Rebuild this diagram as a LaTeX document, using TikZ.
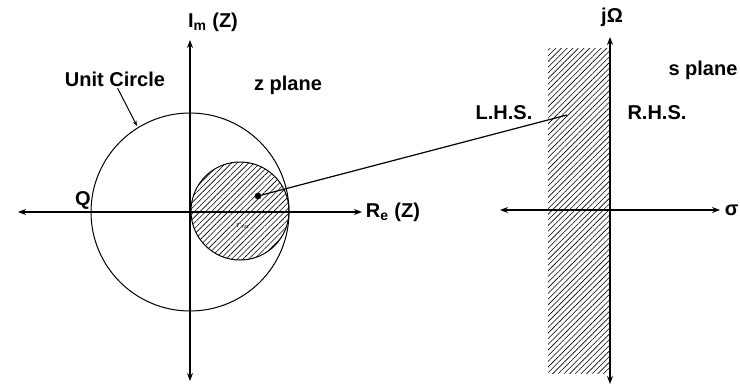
\documentclass[tikz,border=0pt]{standalone}
\usepackage{fontspec}
\setmainfont{Liberation Sans}
\usetikzlibrary{arrows.meta,patterns.meta}
\tikzset{
  lbl/.style={font=\fontsize{15}{17}\selectfont\bfseries,inner sep=1pt},
  hatch/.style={pattern={Lines[angle=45,distance=3pt,line width=0.45pt]}},
  dot/.style={circle,fill,inner sep=0pt,minimum size=5pt},
}
\begin{document}
\begin{tikzpicture}[x=0.75pt,y=-0.75pt,>={Stealth[length=6pt,width=4.5pt]},line width=0.9pt]
\useasboundingbox (0,0) rectangle (740,389);
% z plane
\coordinate (O) at (190,212);
\coordinate (C) at (240,211);
\fill[hatch] (C) circle[radius=49];
\draw[line width=0.75pt] (C) circle[radius=49];
\draw[line width=0.75pt] (O) circle[radius=99];
\coordinate (zw) at (18,212);
\coordinate (ze) at (362,212);
\coordinate (zn) at (190,40);
\coordinate (zs) at (190,381);
\draw[<->] (zw) -- (ze);
\draw[<->] (zs) -- (zn);
\node[lbl,anchor=west] (re) at (364,212) {R\textsubscript{e} (Z)};
\node[lbl] (im) at (213,22) {I\textsubscript{m} (Z)};
\node[lbl] (q) at (83,200) {Q};
\node[lbl] (uc) at (115,79) {Unit Circle};
\coordinate (ucp) at (137,126);
\draw[-{Stealth[length=4pt,width=3pt]},line width=0.75pt] ([xshift=2pt]uc.south) -- (ucp);
\node[lbl] (zp) at (288,85) {z plane};
\node[font=\scriptsize,inner sep=0pt] (rm) at (243,226) {$r_m$};
\node[dot] (pz) at (258,196) {};
% s plane
\fill[hatch] (548,48) rectangle (610,373);
\coordinate (sw) at (500,210);
\coordinate (se) at (720,210);
\coordinate (sn) at (610,37);
\coordinate (ss) at (610,384);
\draw[<->] (sw) -- (se);
\draw[<->] (ss) -- (sn);
\node[lbl] (jw) at (612,17) {jΩ};
\node[lbl,anchor=west] (sig) at (723,210) {σ};
\node[lbl] (sp) at (703,70) {s plane};
\node[lbl] (lhs) at (504,113) {L.H.S.};
\node[lbl] (rhs) at (657,113) {R.H.S.};
\coordinate (ps) at (567,115);
\draw (ps) -- (pz);
\end{tikzpicture}
\end{document}
